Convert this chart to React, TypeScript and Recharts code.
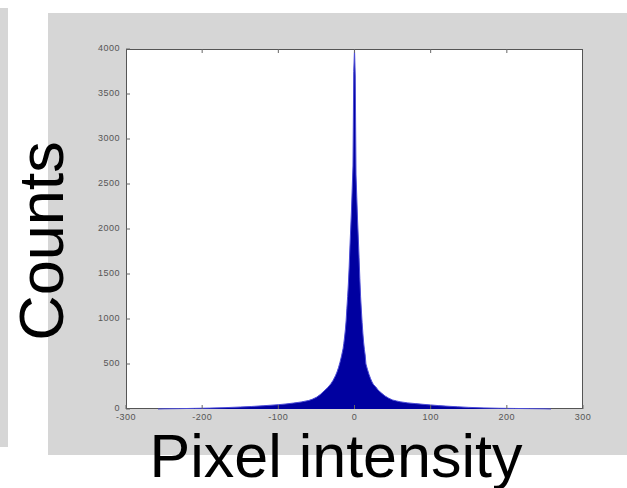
import React from "react"
import { AreaChart, Area, XAxis, YAxis } from "recharts"

// distance from 0 (intensity units) where the histogram height was read
const offsets = [1, 2, 3, 4, 5, 6, 7, 8, 9, 10, 11, 12, 13, 14, 15, 17, 19, 21, 23, 25, 28, 31, 35, 40, 45, 50, 55, 60, 70, 80, 90, 100, 110, 120, 135, 150, 170, 190, 210, 230, 250, 258]
const leftCounts = [3750, 2700, 2450, 2200, 2000, 1800, 1580, 1400, 1250, 1120, 980, 880, 800, 730, 670, 590, 520, 460, 410, 370, 320, 280, 240, 200, 160, 130, 110, 95, 78, 66, 56, 48, 42, 36, 28, 22, 15, 10, 7, 4, 2, 0]
const rightCounts = [3700, 2600, 2350, 2100, 1900, 1680, 1450, 1250, 1100, 960, 840, 740, 660, 600, 500, 440, 385, 340, 300, 270, 245, 210, 180, 145, 120, 100, 90, 80, 68, 60, 52, 45, 38, 32, 25, 18, 12, 8, 6, 4, 2, 0]
const peakCount = 4000

const xTicks = [-300, -200, -100, 0, 100, 200, 300]
const yTicks = [0, 500, 1000, 1500, 2000, 2500, 3000, 3500, 4000]

const data = [
  ...offsets.map((d, i) => ({ x: -d, count: leftCounts[i] })).reverse(),
  { x: 0, count: peakCount },
  ...offsets.map((d, i) => ({ x: d, count: rightCounts[i] })),
]

const GRAY = "#d6d6d6"
const TICK_FONT = "'Liberation Sans', Arial, sans-serif"

const bottomTick = (props: any) => {
  const { x, y, payload } = props
  return (
    <g key={`b${payload.value}`}>
      <line x1={x} y1={y - 9} x2={x} y2={y - 13} stroke="#666" />
      <text x={x} y={y} textAnchor="middle" dominantBaseline="middle" fontSize={9} fill="#555" fontFamily={TICK_FONT} letterSpacing={0.5}>
        {payload.value}
      </text>
    </g>
  )
}

const topTick = (props: any) => {
  const { x, y, payload } = props
  return <line key={`t${payload.value}`} x1={x} y1={y} x2={x} y2={y + 4} stroke="#666" />
}

const leftTick = (props: any) => {
  const { x, y, payload } = props
  return (
    <g key={`l${payload.value}`}>
      <line x1={x + 6} y1={y} x2={x + 10} y2={y} stroke="#666" />
      <text x={x} y={y} textAnchor="end" dominantBaseline="middle" fontSize={9} fill="#555" fontFamily={TICK_FONT} letterSpacing={0.5}>
        {payload.value}
      </text>
    </g>
  )
}

const rightTick = (props: any) => {
  const { x, y, payload } = props
  return <line key={`r${payload.value}`} x1={x} y1={y} x2={x - 4} y2={y} stroke="#666" />
}

export default function App() {
  return (
    <div style={{ position: "absolute", left: 0, top: 0, width: 627, height: 488, background: "#fff", overflow: "hidden" }}>
      <div style={{ position: "absolute", left: 0, top: 8, width: 8, height: 439, background: GRAY }} />
      <div style={{ position: "absolute", left: 48, top: 13, width: 579, height: 442, background: GRAY }} />
      <div style={{ position: "absolute", left: 126, top: 49, width: 457, height: 360, background: "#fff", border: "1px solid #555", boxSizing: "border-box" }} />
      <div style={{ position: "absolute", left: 0, top: 0 }}>
        <AreaChart width={627} height={488} data={data} margin={{ top: 45, left: 96, right: 40, bottom: 59 }}>
          <XAxis
            type="number"
            dataKey="x"
            domain={[-300, 300]}
            ticks={xTicks}
            height={20}
            tickSize={0}
            tickMargin={9}
            axisLine={false}
            tickLine={false}
            tick={bottomTick}
            interval={0}
          />
          <XAxis
            xAxisId="top"
            orientation="top"
            type="number"
            dataKey="x"
            domain={[-300, 300]}
            ticks={xTicks.slice(1, -1)}
            height={4}
            tickSize={0}
            tickMargin={0}
            axisLine={false}
            tickLine={false}
            tick={topTick}
            interval={0}
          />
          <YAxis
            type="number"
            domain={[0, 4000]}
            ticks={yTicks}
            width={30}
            tickSize={0}
            tickMargin={6}
            axisLine={false}
            tickLine={false}
            tick={leftTick}
            interval={0}
          />
          <YAxis
            yAxisId="right"
            orientation="right"
            type="number"
            domain={[0, 4000]}
            ticks={yTicks.slice(1, -1)}
            width={4}
            tickSize={0}
            tickMargin={0}
            axisLine={false}
            tickLine={false}
            tick={rightTick}
            interval={0}
          />
          <Area
            type="linear"
            dataKey="count"
            fill="#0000a0"
            fillOpacity={1}
            stroke="#4b4bd6"
            strokeWidth={1}
            isAnimationActive={false}
            dot={false}
            activeDot={false}
          />
        </AreaChart>
      </div>
      <svg width={627} height={488} style={{ position: "absolute", left: 0, top: 0, pointerEvents: "none" }}>
        <text
          transform="translate(63, 241) rotate(-90)"
          textAnchor="middle"
          fontSize={63}
          fontFamily="'Liberation Sans', Arial, sans-serif"
          fill="#000"
        >
          Counts
        </text>
        <text x={336} y={477} textAnchor="middle" fontSize={61} fontFamily="'Liberation Sans', Arial, sans-serif" fill="#000">
          Pixel intensity
        </text>
      </svg>
    </div>
  )
}
